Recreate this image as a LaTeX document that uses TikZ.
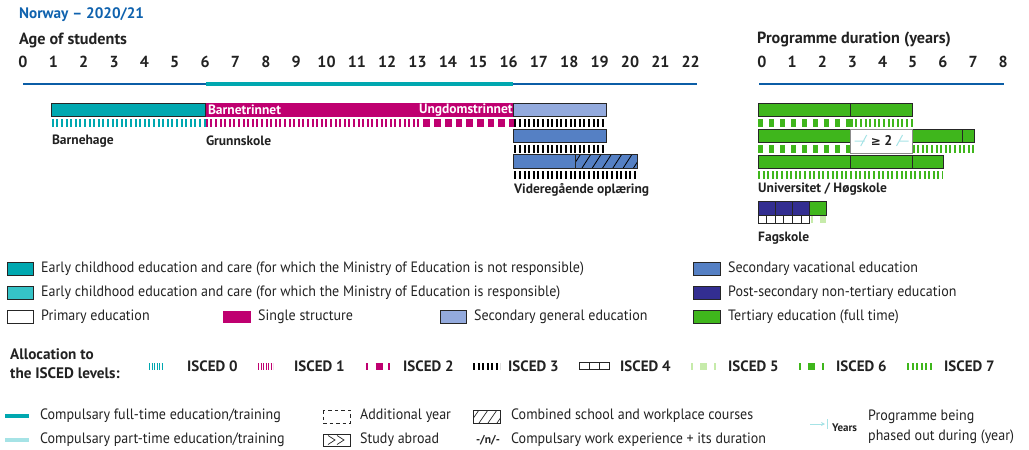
\documentclass[tikz,border=0pt]{standalone}
\usepackage{fontspec}
\setmainfont{PT Sans}
\newfontfamily\condf{PT Sans}[FakeStretch=0.935]
\newfontfamily\symf{DejaVu Sans}
\usetikzlibrary{arrows.meta}
\definecolor{tealA}{HTML}{00A8B0}
\definecolor{tealB}{HTML}{35C3C7}
\definecolor{tealL}{HTML}{A6E3E6}
\definecolor{mag}{HTML}{BF0070}
\definecolor{secgen}{HTML}{93AADD}
\definecolor{secvoc}{HTML}{5580C4}
\definecolor{purp}{HTML}{332E91}
\definecolor{grn}{HTML}{3FB61C}
\definecolor{grnL}{HTML}{C6EBAA}
\definecolor{ttl}{HTML}{0F62AE}
\definecolor{axisb}{HTML}{0B5DA6}
\definecolor{txt}{HTML}{222222}
\begin{document}
\begin{tikzpicture}[x=1pt,y=-1pt,
  lab/.style={anchor=west, inner sep=0, text=txt, font=\condf\fontsize{15}{17}\selectfont},
  blab/.style={anchor=west, inner sep=0, text=txt, font=\fontsize{13.5}{15}\selectfont\bfseries},
  ilab/.style={anchor=west, inner sep=0, text=txt, font=\fontsize{15}{17}\selectfont\bfseries},
  num/.style={anchor=center, inner sep=0, text=txt, font=\fontsize{16}{18}\selectfont\bfseries},
  barb/.style={draw=black!85, line width=0.8pt},
  thinticks/.style={line width=8pt, dash pattern=on 2pt off 2.6pt},
  sqticks/.style={line width=8pt, dash pattern=on 4.5pt off 6.5pt},
  magsq/.style={line width=8pt, dash pattern=on 6.7pt off 4pt},
  lbox/.style={draw=black!85, line width=0.8pt},
  denset/.style={line width=7pt, dash pattern=on 1.2pt off 1.3pt},
  smallt/.style={line width=7pt, dash pattern=on 2pt off 2.5pt},
]
\useasboundingbox (0,0) rectangle (1029,450);
\def\A#1{(21+30.8*#1)}
\def\D#1{(758+30.9*#1)}
% titles
\node[anchor=west, inner sep=0, text=ttl, font=\fontsize{15.2}{17}\selectfont\bfseries] (title) at (19,15) {Norway -- 2020/21};
\node[anchor=west, inner sep=0, text=txt, font=\fontsize{16.2}{18}\selectfont\bfseries] (age) at (19,40) {Age of students};
\node[anchor=west, inner sep=0, text=txt, font=\fontsize{16.2}{18}\selectfont\bfseries] (dur) at (757,40) {Programme duration (years)};
\foreach \i in {0,...,22} \node[num] (a\i) at ({23+30.35*\i},62) {\i};
\foreach \i in {0,...,8} \node[num] (d\i) at ({762+30.15*\i},62) {\i};
% axes
\draw[axisb, line width=2.2pt] (23,84) -- (697,84);
\draw[tealA, line width=3.5pt] (206,84) -- (513,84);
\draw[axisb, line width=2.2pt] (759,84) -- (1004,84);
% left row 1
\fill[mag] ({\A1},103.3) rectangle ({\A{16}},116.7);
\draw[barb, fill=tealA] ({\A1},103.3) rectangle ({\A6},116.7);
\draw[barb, fill=secgen] ({\A{16}},103.3) rectangle ({\A{19}},116.7);
\node[anchor=west, inner sep=0, text=white, font=\fontsize{13.5}{15}\selectfont\bfseries] (bt) at ({\A6+2},110) {Barnetrinnet};
\node[anchor=east, inner sep=0, text=white, font=\fontsize{13.5}{15}\selectfont\bfseries] (ut) at ({\A{16}-1},110) {Ungdomstrinnet};
\draw[tealA, thinticks] ({\A1},123) -- ({\A6},123);
\draw[mag, thinticks] ({\A6},123) -- ({\A{13}},123);
\draw[mag, magsq] ({\A{13}+2},123) -- ({\A{16}+4},123);
\draw[black, thinticks] ({\A{16}+0.5},123) -- ({\A{19}},123);
\node[blab] (bh) at ({\A1},141) {Barnehage};
\node[blab] (gs) at ({\A6},141) {Grunnskole};
% left row 2
\draw[barb, fill=secvoc] ({\A{16}},129.3) rectangle ({\A{19}},142.5);
\draw[black, thinticks] ({\A{16}+0.5},149) -- ({\A{19}},149);
% left row 3
\draw[barb, fill=secvoc] ({\A{16}},154.5) rectangle ({\A{20}},168.5);
\begin{scope}
\clip ({\A{18}},154.5) rectangle ({\A{20}},168.5);
\foreach \k in {0,...,7} \draw[black, line width=0.8pt] ({\A{18}-4+10.3*\k},168.5) -- ++(9,-14);
\end{scope}
\draw[barb] ({\A{18}},154.5) -- ({\A{18}},168.5);
\draw[barb] ({\A{16}},154.5) rectangle ({\A{20}},168.5);
\draw[black, thinticks] ({\A{16}+0.5},174.5) -- ({\A{20}},174.5);
\node[blab] (vo) at ({\A{16}},190) {Videregående oplæring};
% right rows
\draw[barb, fill=grn] ({\D0},103.3) rectangle ({\D3},116.7);
\draw[barb, fill=grn] ({\D3},103.3) rectangle ({\D5},116.7);
\draw[grn, sqticks] ({\D0},123) -- ({\D3},123);
\draw[grn, thinticks] ({\D3},123) -- ({\D5},123);
\draw[barb, fill=grn] ({\D0},129.3) rectangle ({\D3},142.7);
\draw[barb, fill=grn] ({\D5},129.3) rectangle ({\D{6.6}},142.7);
\draw[barb, fill=grn] ({\D{6.6}},129.3) rectangle ({\D7},142.7);
\draw[grn, sqticks] ({\D0},149) -- ({\D3},149);
\draw[grn, thinticks] ({\D5},149) -- ({\D7},149);
\draw[draw=black!45, fill=white, line width=0.8pt] ({\D3},129.5) rectangle ({\D5},153);
\node[inner sep=0, text=txt, font=\fontsize{14}{16}\selectfont\bfseries] (ge) at ({\D4},141) {{\symf\fontsize{12}{14}\selectfont ≥} 2};
\draw[tealL, line width=1pt] ({\D3+4},141) -- ({\D3+14},141) ({\D3+10},146) -- ({\D3+16},135);
\draw[tealL, line width=1pt] ({\D5-4},141) -- ({\D5-14},141) ({\D5-16},146) -- ({\D5-10},135);
\draw[barb, fill=grn] ({\D0},155) rectangle ({\D3},168.3);
\draw[barb, fill=grn] ({\D3},155) rectangle ({\D5},168.3);
\draw[barb, fill=grn] ({\D5},155) rectangle ({\D6},168.3);
\draw[grn, thinticks] ({\D0},174.8) -- ({\D6},174.8);
\node[blab] (uh) at ({\D0},189) {Universitet / Høgskole};
% fagskole
\foreach \k in {0,1,2} \draw[barb, fill=purp] ({758+17*\k},201.7) rectangle ({775+17*\k},215.7);
\draw[barb, fill=grn] (809,201.7) rectangle (826,215.7);
\foreach \k in {0,...,5} \draw[black!85, line width=0.7pt] ({758+8.6*\k},215.7) rectangle ({766.6+8.6*\k},223);
\fill[grnL] (811,216) rectangle (813,223);
\fill[grnL] (820,216) rectangle (826,223);
\node[blab] (fs) at ({\D0},238) {Fagskole};
% legend boxes
\draw[lbox, fill=tealA] (7,262.7) rectangle (33,275);
\node[lab] (l1) at (41,268.5) {Early childhood education and care (for which the Ministry of Education is not responsible)};
\draw[lbox, fill=tealB] (7,286.7) rectangle (33,299);
\node[lab] (l2) at (41,292.5) {Early childhood education and care (for which the Ministry of Education is responsible)};
\draw[lbox, fill=white] (7,310.7) rectangle (33,323);
\node[lab] (l3) at (41,316.5) {Primary education};
\fill[mag] (223,310.7) rectangle (251,323);
\node[lab] (l4) at (258,316.5) {Single structure};
\draw[lbox, fill=secgen] (440,310.7) rectangle (466,323);
\node[lab] (l5) at (474,316.5) {Secondary general education};
\draw[lbox, fill=secvoc] (693,262.7) rectangle (720,275);
\node[lab] (l6) at (728,268.5) {Secondary vacational education};
\draw[lbox, fill=purp] (693,286.7) rectangle (720,299);
\node[lab] (l7) at (728,292.5) {Post-secondary non-tertiary education};
\draw[lbox, fill=grn] (693,310.7) rectangle (720,323);
\node[lab] (l8) at (728,316.5) {Tertiary education (full time)};
% ISCED allocation
\node[align=left, anchor=north west, inner sep=0, text=txt, font=\fontsize{15.2}{19.5}\selectfont\bfseries] (alloc) at (10,348) {Allocation to\\the ISCED levels:};
\draw[tealA, denset] (149,366) -- (163,366);
\node[ilab] (i0) at (187,366) {ISCED 0};
\draw[mag, denset] (258,366) -- (273,366);
\node[ilab] (i1) at (294,366) {ISCED 1};
\draw[mag, line width=7pt] (366,366) -- (368,366) (375.5,366) -- (382.5,366) (388,366) -- (390,366);
\node[ilab] (i2) at (403,366) {ISCED 2};
\draw[black, smallt] (473,366) -- (500,366);
\node[ilab] (i3) at (508,366) {ISCED 3};
\foreach \k in {0,1,2} \draw[black!85, line width=0.7pt] ({579+10*\k},362.5) rectangle ({589+10*\k},369.5);
\node[ilab] (i4) at (620,366) {ISCED 4};
\draw[grnL, line width=7pt] (691,366) -- (693,366) (700,366) -- (707,366) (714,366) -- (716,366);
\node[ilab] (i5) at (728,366) {ISCED 5};
\draw[grn, line width=7pt] (799,366) -- (801,366) (808,366) -- (815,366) (822,366) -- (824,366);
\node[ilab] (i6) at (836,366) {ISCED 6};
\draw[grn, smallt] (907,366) -- (933,366);
\node[ilab] (i7) at (944,366) {ISCED 7};
% bottom legend
\draw[tealA, line width=4.5pt] (5,416) -- (29,416);
\node[lab] (b1) at (40,416) {Compulsary full-time education/training};
\draw[tealL, line width=4.5pt] (5,440) -- (29,440);
\node[lab] (b2) at (40,440) {Compulsary part-time education/training};
\draw[black!85, line width=0.7pt, dash pattern=on 3.5pt off 3pt] (323,410) rectangle (350,423);
\node[lab] (b3) at (360,416) {Additional year};
\draw[black!85, line width=0.7pt] (323,434) rectangle (350,446);
\draw[black!85, line width=0.7pt] (328,435.5) -- (335,440) -- (328,444.5) (337,435.5) -- (344,440) -- (337,444.5);
\node[lab] (b4) at (360,440) {Study abroad};
\draw[black!85, line width=0.7pt] (473,410) rectangle (500,423);
\begin{scope}
\clip (473,410) rectangle (500,423);
\foreach \k in {0,1,2,3} \draw[black!85, line width=0.7pt] ({470+9*\k},423) -- ++(9,-13);
\end{scope}
\node[lab] (b5) at (511,416) {Combined school and workplace courses};
\node[inner sep=0, text=txt, font=\fontsize{11.5}{13}\selectfont\bfseries] (wn) at (488,440) {-/n/-};
\node[lab] (b6) at (511,440) {Compulsary work experience + its duration};
\draw[tealL, line width=1pt, -{Stealth[length=4pt,width=4pt]}] (810,424) -- (825,424);
\draw[tealL, line width=1pt] (827,419) -- (827,429);
\node[anchor=west, inner sep=0, text=txt, font=\fontsize{11}{12}\selectfont\bfseries] (yrs) at (832,428) {Years};
\node[lab] (b7) at (868,417) {Programme being};
\node[lab] (b8) at (868,437) {phased out during (year)};
\end{tikzpicture}
\end{document}
